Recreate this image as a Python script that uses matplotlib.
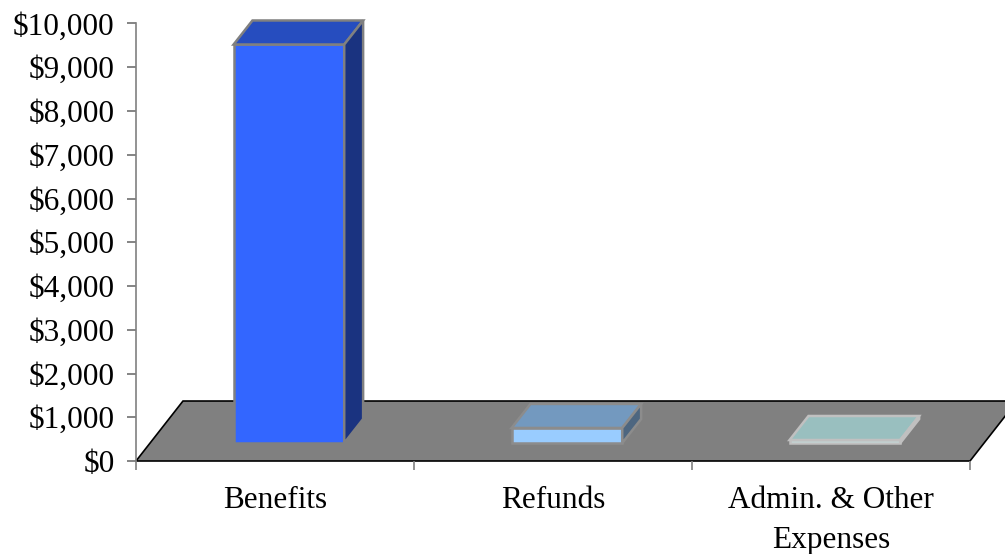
import matplotlib
matplotlib.use("Agg")
import numpy as np
import matplotlib.pyplot as plt
from matplotlib.patches import Polygon

categories = ["Benefits", "Refunds", "Admin. & Other\nExpenses"]
values = [9110, 345, 70]
y_ticks = [0, 1000, 2000, 3000, 4000, 5000, 6000, 7000, 8000, 9000, 10000]
y_labels = ["$%s" % format(v, ",") for v in y_ticks]

front_colors = ["#3366FF", "#99CCFF", "#CCFFFF"]
top_colors = ["#264DBF", "#7399BF", "#99BFBF"]
side_colors = ["#1A3380", "#4D6680", "#C0C0C0"]
edge_colors = ["#808080", "#8C8C8C", "#C0C0C0"]

# oblique offsets of the fake 3d, in data units
FLOOR_DX = 0.169
FLOOR_DY = 1371
BAR_DX = 0.068
BAR_DY = 549
BAR_X_SHIFT = 0.05
BAR_BASE = 410
BAR_WIDTH = 0.398

plt.rcParams["font.family"] = ["Liberation Serif", "DejaVu Serif"]

W, H = 1005, 554
fig = plt.figure(figsize=(W / 100, H / 100), dpi=100)
ax = fig.add_axes([136 / W, 1 - 461 / H, (970 - 136) / W, (461 - 23.5) / H])
ax.set_xlim(-0.5, 2.5)
ax.set_ylim(0, 10000)
ax.patch.set_visible(False)

# floor
floor = Polygon([(-0.5, 0), (2.5, 0), (2.5 + FLOOR_DX, FLOOR_DY), (-0.5 + FLOOR_DX, FLOOR_DY)],
                closed=True, facecolor="#808080", edgecolor="black", linewidth=1.2,
                clip_on=False, zorder=1)
ax.add_patch(floor)

for i, v in enumerate(values):
    x0 = i + BAR_X_SHIFT - BAR_WIDTH / 2
    x1 = i + BAR_X_SHIFT + BAR_WIDTH / 2
    y0 = BAR_BASE
    y1 = BAR_BASE + v
    ax.bar(i + BAR_X_SHIFT, v, width=BAR_WIDTH, bottom=BAR_BASE, color=front_colors[i],
           edgecolor=edge_colors[i], linewidth=1.8, zorder=3)
    top = [(x0, y1), (x1, y1), (x1 + BAR_DX, y1 + BAR_DY), (x0 + BAR_DX, y1 + BAR_DY)]
    side = [(x1, y0), (x1 + BAR_DX, y0 + BAR_DY), (x1 + BAR_DX, y1 + BAR_DY), (x1, y1)]
    ax.add_patch(Polygon(top, closed=True, facecolor=top_colors[i], edgecolor=edge_colors[i],
                         linewidth=1.8, clip_on=False, zorder=3))
    ax.add_patch(Polygon(side, closed=True, facecolor=side_colors[i], edgecolor=edge_colors[i],
                         linewidth=1.8, clip_on=False, zorder=3))

for s in ["top", "right"]:
    ax.spines[s].set_visible(False)
ax.spines["left"].set_color("#808080")
ax.spines["left"].set_linewidth(1.2)
ax.spines["bottom"].set_visible(False)

ax.set_yticks(y_ticks)
ax.set_yticklabels(y_labels, fontsize=22.5)
ax.tick_params(axis="y", length=6.5, width=1.2, color="#707070", pad=9)

ax.set_xticks([-0.5, 0.5, 1.5, 2.5])
ax.set_xticklabels([])
ax.tick_params(axis="x", length=6.5, width=1.2, color="#808080")
for i, name in enumerate(categories):
    ax.annotate(name, xy=(i, 0), xytext=(0, -18), textcoords="offset points",
                ha="center", va="top", fontsize=22.5, linespacing=1.52,
                annotation_clip=False)

fig.savefig("out.png", dpi=100)
